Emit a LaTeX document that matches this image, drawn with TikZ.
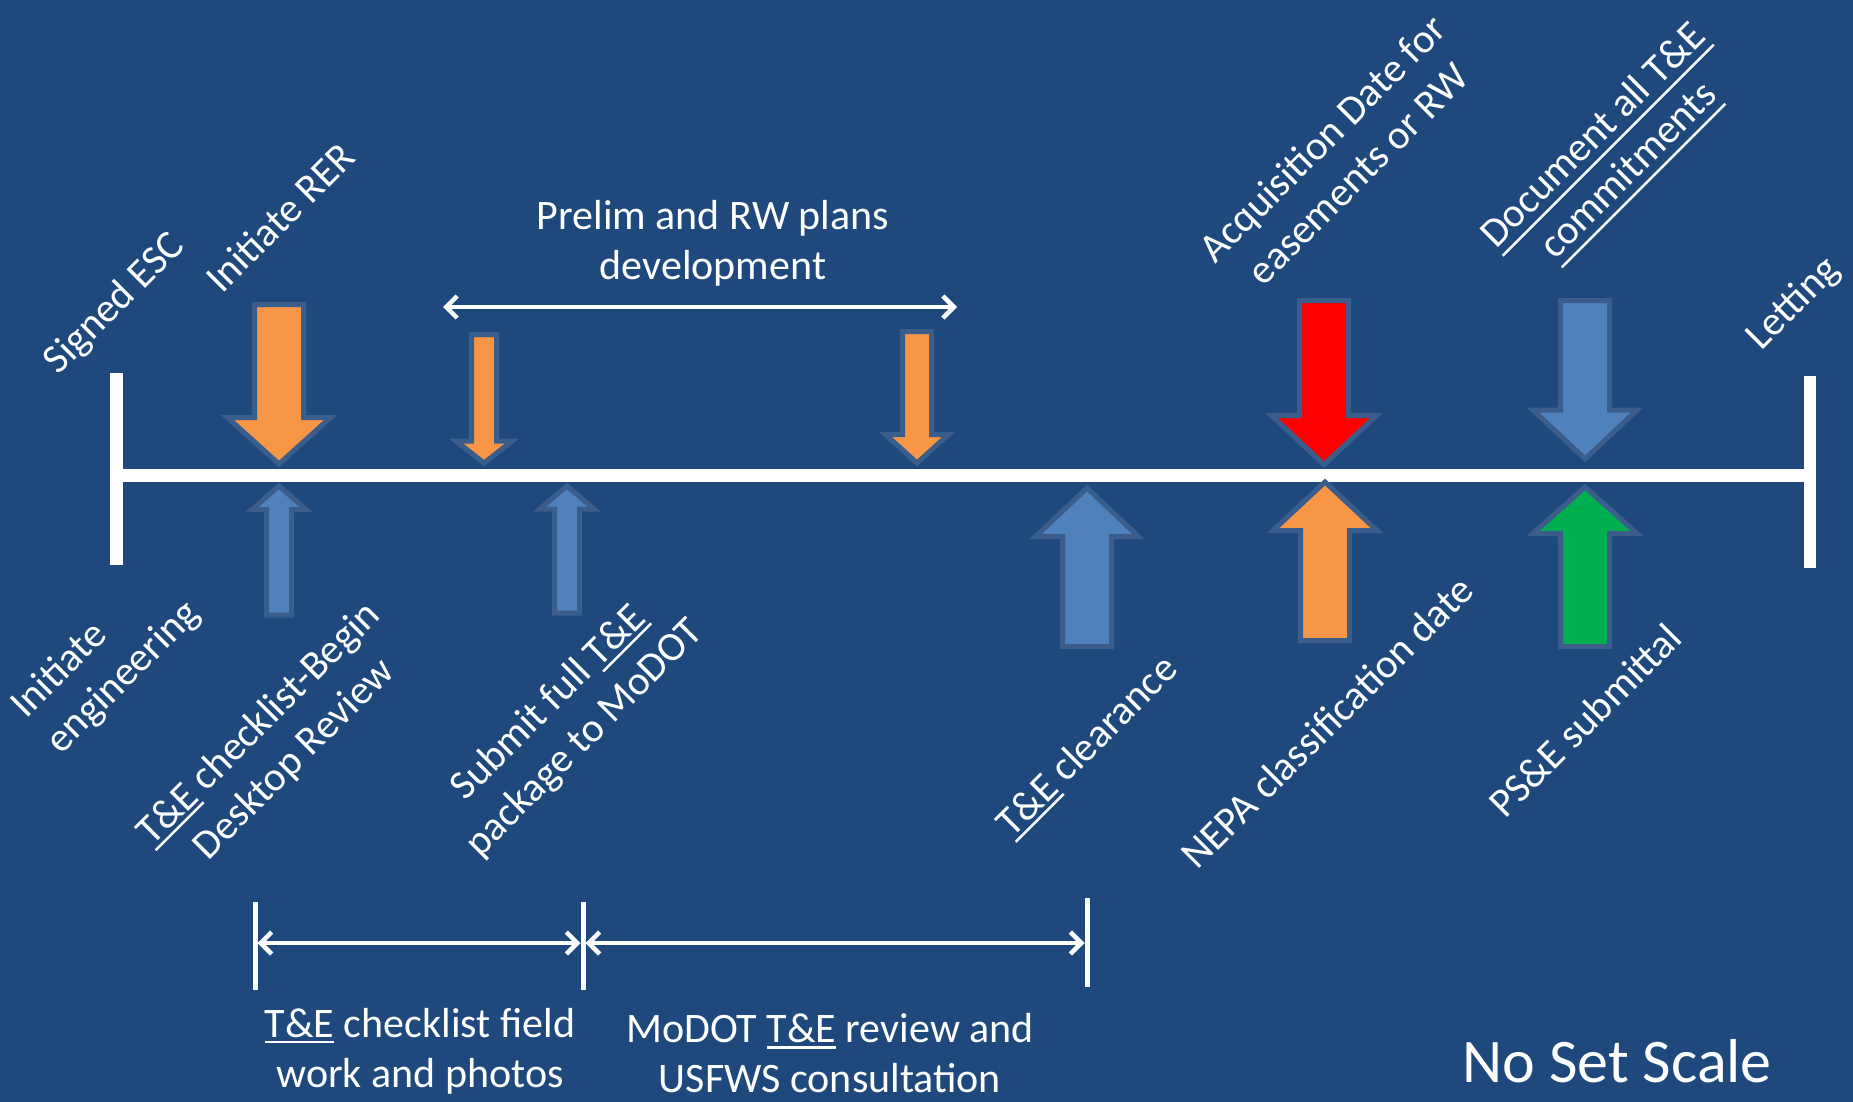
\documentclass[tikz,border=0pt]{standalone}
\usepackage{fontspec}
\setmainfont{Carlito}
\usetikzlibrary{arrows.meta}
\definecolor{bg}{HTML}{1F497D}
\definecolor{outl}{RGB}{59,93,139}
\definecolor{orng}{HTML}{F79646}
\definecolor{blu}{HTML}{4F81BD}
\definecolor{redd}{HTML}{FF0000}
\definecolor{grn}{HTML}{00B050}
\newcommand\ulTE[1]{\setbox0\hbox{#1}\rlap{\vrule width\wd0 height -3.5pt depth 6pt}\box0\relax}
\newcommand\ulDoc[1]{\setbox0\hbox{#1}\rlap{\vrule width\wd0 height -8pt depth 10.5pt}\box0\relax}
\newcommand\blockarrow[7]{%
  \filldraw[arrowshape, fill=#1] (#2-#6,#3) -- (#2-#6,#4) -- (#2-#7,#4) -- (#2,#5)
    -- (#2+#7,#4) -- (#2+#6,#4) -- (#2+#6,#3) -- cycle;}
\tikzset{
  arrowshape/.style={draw=outl, line width=5pt},
  lbl/.style={text=white, font=\fontsize{41}{50}\selectfont, inner sep=0pt, rotate=45, align=center},
  hlbl/.style={text=white, font=\fontsize{42}{50}\selectfont, inner sep=0pt, align=center},
  barline/.style={white, line width=5pt},
  dimarrow/.style={white, line width=4.5pt, {Straight Barb[length=11pt,width=22pt]}-{Straight Barb[length=11pt,width=22pt]}},
}
\begin{document}
\begin{tikzpicture}[x=1pt,y=-1pt]
\fill[bg] (0,0) rectangle (1853,1102);
\useasboundingbox (0,0) rectangle (1853,1102);

% timeline
\fill[white] (109.5,373) rectangle (122.5,565);
\fill[white] (122.5,469) rectangle (1804,482);
\fill[white] (1804,376) rectangle (1816,568);

% arrows above the line (down)
\blockarrow{orng}{279}{304.5}{417.5}{464}{24.5}{51.5}
\blockarrow{orng}{484}{334.5}{441}{463}{12.5}{28}
\blockarrow{orng}{917}{331.5}{434.5}{463}{14.5}{31.5}
\blockarrow{redd}{1324}{300.5}{415.5}{464.5}{24.5}{52.5}
\blockarrow{blu}{1585}{300.5}{410}{459}{24.5}{52}
% arrows below the line (up)
\blockarrow{blu}{279}{615}{509.5}{486}{12.5}{27}
\blockarrow{blu}{567}{613}{509}{486}{12.5}{27}
\blockarrow{blu}{1087}{646.5}{536.5}{488}{24.5}{51.5}
\blockarrow{orng}{1325}{640.5}{530.5}{482}{24.5}{52}
\blockarrow{grn}{1585}{646.5}{533.5}{487}{24.5}{52}

% top double arrow
\coordinate (pl) at (443,307);
\coordinate (pr) at (957,307);
\draw[dimarrow] (pl) -- (pr);

% bottom dimension lines
\coordinate (k1a) at (255,902); \coordinate (k1b) at (255,990);
\coordinate (k2a) at (583,902); \coordinate (k2b) at (583,990);
\coordinate (k3a) at (1087,898); \coordinate (k3b) at (1087,987);
\draw[barline] (k1a) -- (k1b);
\draw[barline] (k2a) -- (k2b);
\draw[barline] (k3a) -- (k3b);
\coordinate (d1) at (257.5,943);
\coordinate (d2) at (580.5,943);
\coordinate (d3) at (585.5,943);
\coordinate (d4) at (1084.5,943);
\draw[dimarrow] (d1) -- (d2);
\draw[dimarrow] (d3) -- (d4);

% rotated labels
\node[lbl] (signed) at (115,304) {Signed ESC};
\node[lbl] (rer) at (280,217) {Initiate RER};
\node[lbl, align=left] (ieng) at (106,660) {Initiate\\engineering};
\node[lbl] (tecl) at (277,742) {\ulTE{T\&E} checklist-Begin\\Desktop Review};
\node[lbl] (submit) at (567,721) {Submit full \ulTE{T\&E}\\package to MoDOT};
\node[lbl] (clear) at (1088,747) {\ulTE{T\&E} clearance};
\node[lbl] (nepa) at (1327,722) {NEPA classification date};
\node[lbl] (pse) at (1585,720) {PS\&E submittal};
\node[lbl] (acq) at (1340,156) {Acquisition Date for\\easements or RW};
\node[lbl] (doc) at (1613,155) {\ulDoc{Document all T\&E}\\\ulDoc{commitments}};
\node[lbl] (let) at (1794,304) {Letting};

% horizontal labels
\node[hlbl] (prelim) at (713,243.5) {Prelim and RW plans\\development};
\node[hlbl] (field) at (420,1051) {\ulTE{T\&E} checklist field\\work and photos};
\node[hlbl] (review) at (830,1053.5) {MoDOT \ulTE{T\&E} review and\\USFWS consultation};
\node[text=white, font=\fontsize{62}{70}\selectfont, inner sep=0pt, anchor=base] (scale) at (1617,1082) {No Set Scale};
\end{tikzpicture}
\end{document}
